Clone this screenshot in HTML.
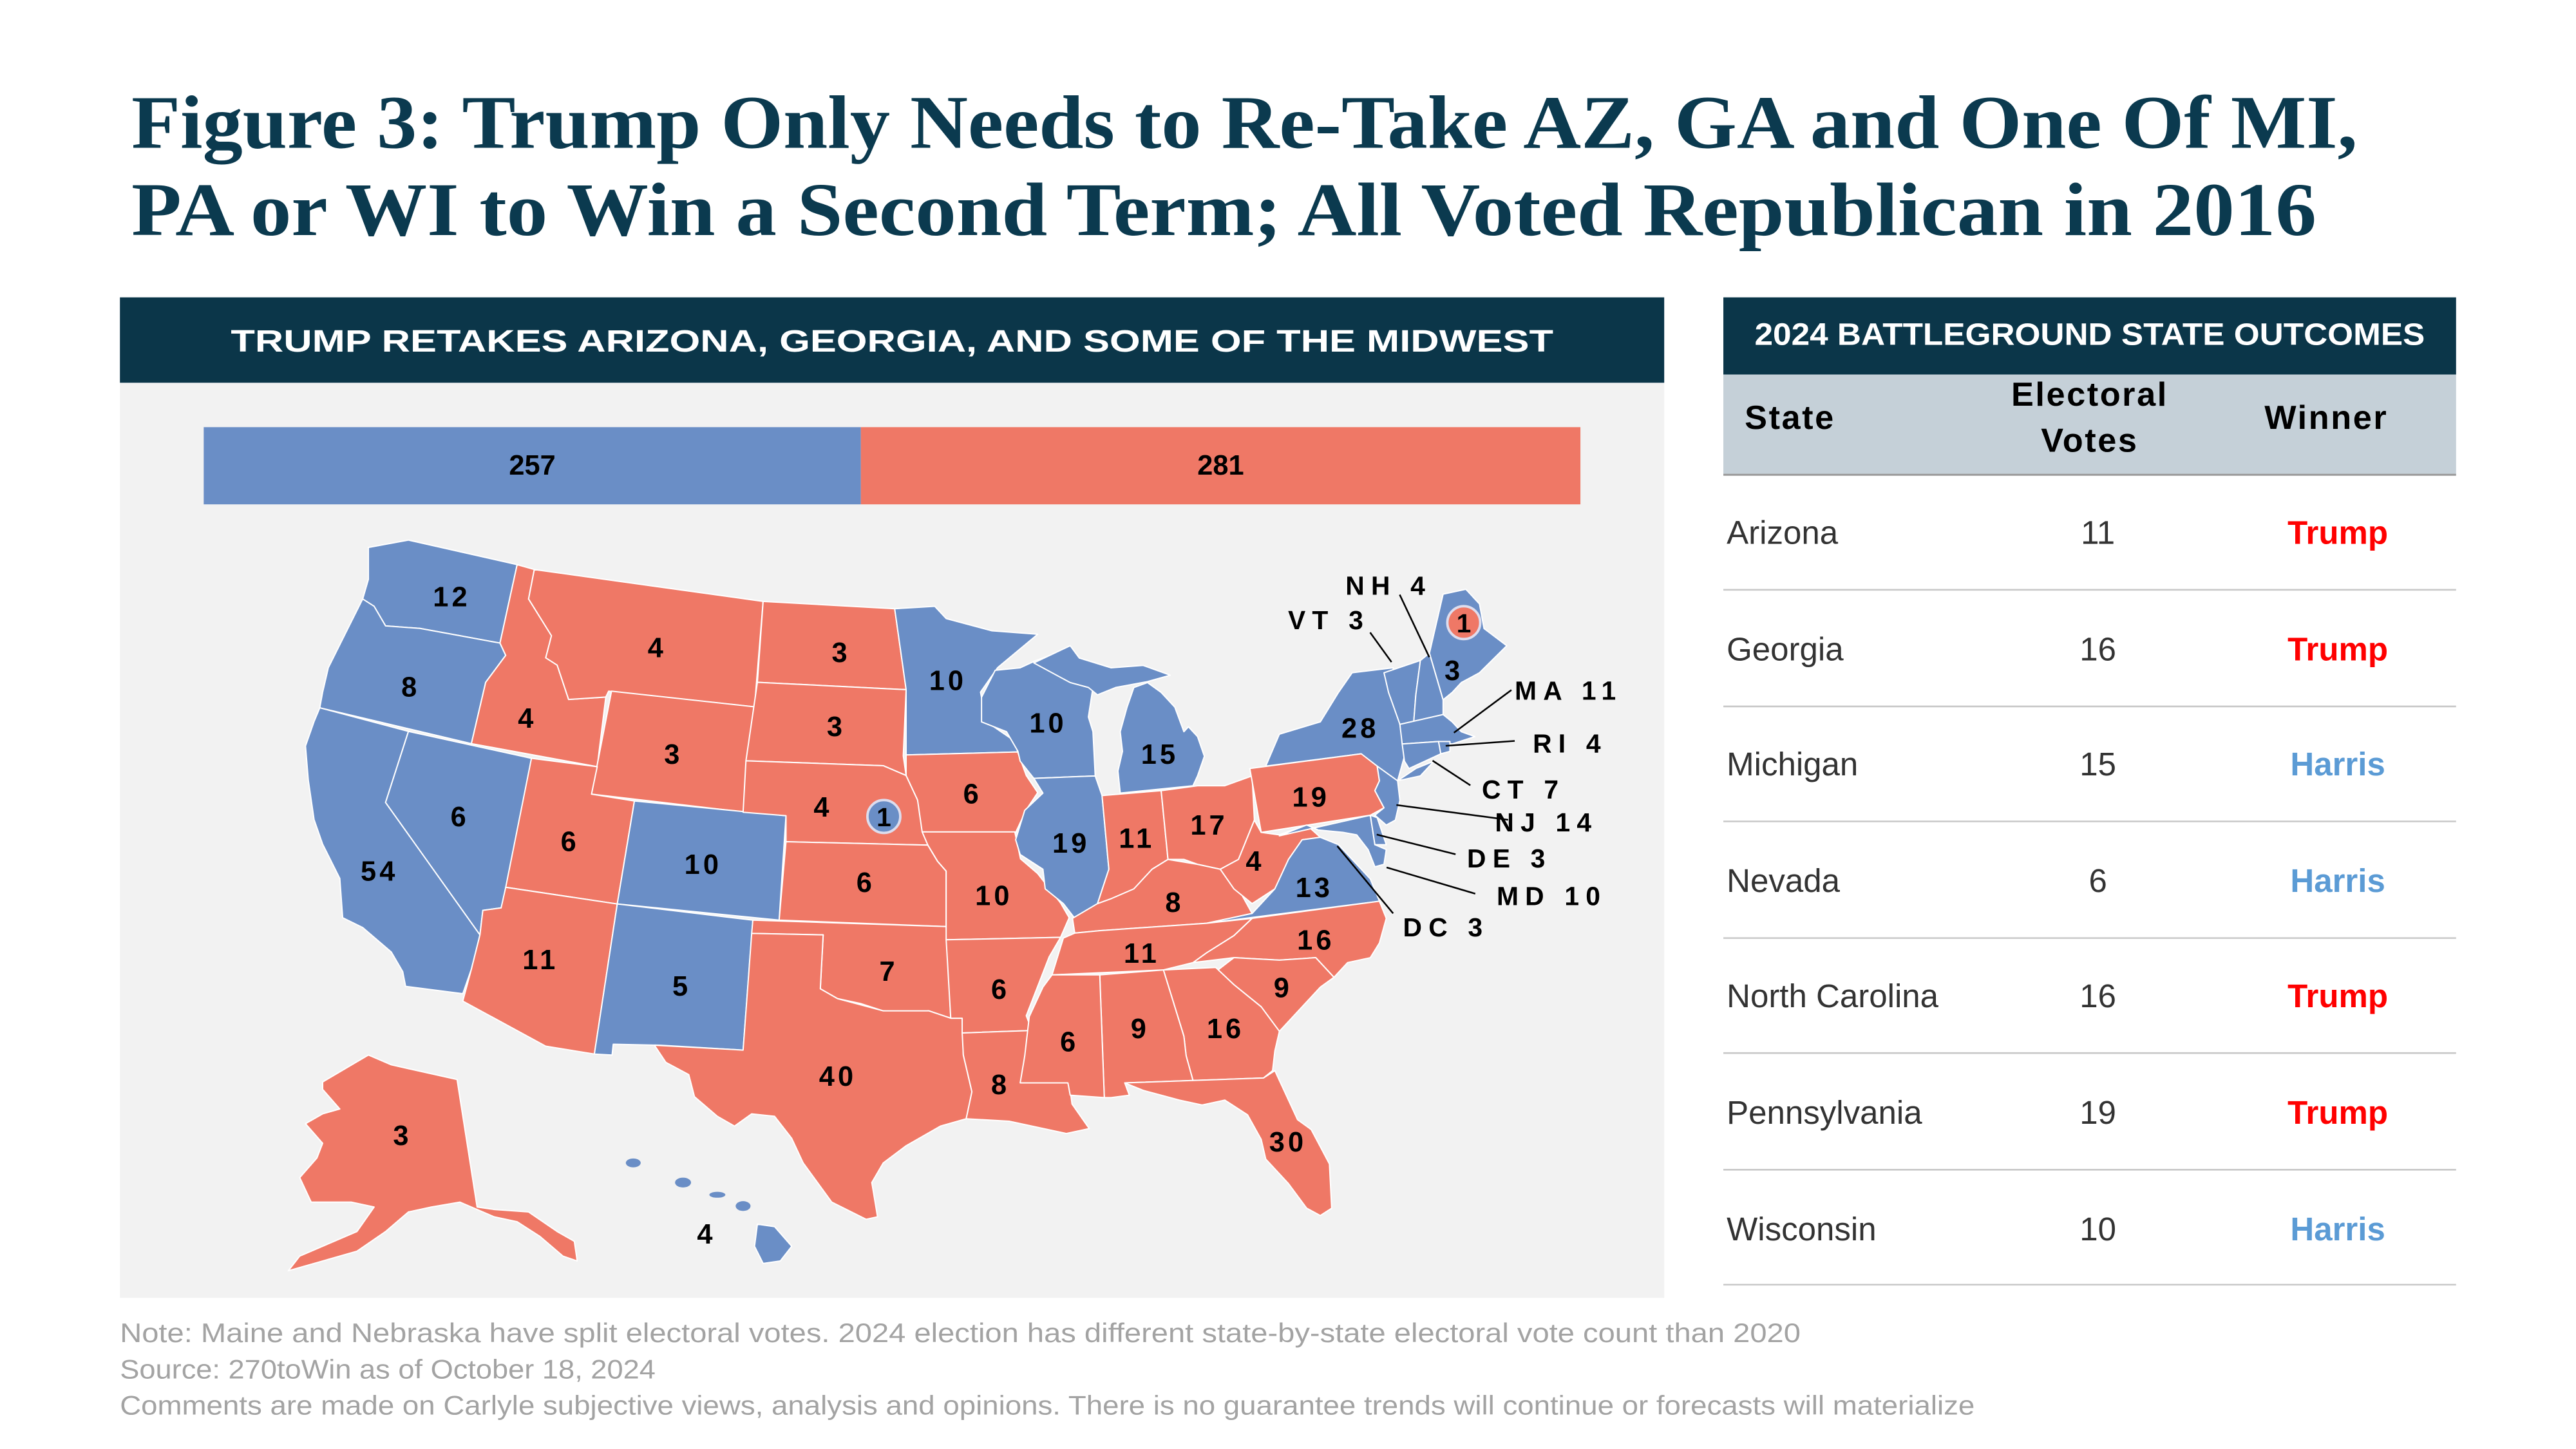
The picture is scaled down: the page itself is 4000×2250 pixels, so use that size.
<!DOCTYPE html>
<html><head><meta charset="utf-8"><style>
html,body{margin:0;padding:0;background:#fff}
svg{display:block}
text{font-family:"Liberation Sans",sans-serif}
.t{font-family:"Liberation Serif",serif;font-weight:bold;fill:#0b3a4f;font-size:46px}
.b{fill:#6a8ec6}.r{fill:#ef7866}
.st path,.st polygon{stroke:#fff;stroke-width:2;vector-effect:non-scaling-stroke;stroke-linejoin:round}
.lb{font-weight:bold;font-size:17px;fill:#000;text-anchor:middle;letter-spacing:2px}
.ab{font-weight:bold;font-size:16px;fill:#000;letter-spacing:4px}
.rw{font-size:20px;fill:#333}
.nm{font-size:20px;fill:#333;text-anchor:middle}
.tr{font-size:20px;font-weight:bold;fill:#ff0000;text-anchor:middle}
.hr{font-size:20px;font-weight:bold;fill:#5b9bd5;text-anchor:middle}
.nt{font-size:16.5px;fill:#a3a3a3}
</style></head><body>
<svg width="4000" height="2250" viewBox="0 0 1568 882" preserveAspectRatio="none" xmlns="http://www.w3.org/2000/svg">
<rect width="1568" height="882" fill="#fff"/>
<text class="t" x="80" y="90" textLength="1355" lengthAdjust="spacingAndGlyphs">Figure 3: Trump Only Needs to Re-Take AZ, GA and One Of MI,</text>
<text class="t" x="80" y="143" textLength="1330" lengthAdjust="spacingAndGlyphs">PA or WI to Win a Second Term; All Voted Republican in 2016</text>

<rect x="73" y="181" width="940" height="52" fill="#0b3649"/>
<text x="543" y="214" text-anchor="middle" fill="#fff" font-weight="bold" font-size="19" textLength="805" lengthAdjust="spacingAndGlyphs">TRUMP RETAKES ARIZONA, GEORGIA, AND SOME OF THE MIDWEST</text>
<rect x="73" y="233" width="940" height="557" fill="#f2f2f2"/>
<rect x="124" y="260" width="400" height="47" class="b"/>
<rect x="524" y="260" width="438" height="47" class="r"/>
<text x="324" y="289" text-anchor="middle" font-weight="bold" font-size="17">257</text>
<text x="743" y="289" text-anchor="middle" font-weight="bold" font-size="17">281</text>

<g class="st" transform="translate(175.5,319.8) scale(0.3482,0.2985)">
<polygon class="b" points="140,45 210,30 400,80 370,240 300,225 230,210 170,205 150,165 130,150 140,110"/>
<polygon class="b" points="130,150 150,165 170,205 230,210 300,225 370,240 380,265 345,320 320,445 55,372 60,340 70,290 100,220"/>
<polygon class="b" points="55,372 210,420 170,565 335,835 320,905 305,955 205,940 200,910 180,870 130,820 95,800 90,720 60,650 45,600 35,520 30,450 45,400"/>
<polygon class="b" points="210,420 425,475 385,735 372,780 340,785 335,835 170,565"/>
<polygon class="r" points="400,80 430,90 420,150 460,225 450,270 470,285 490,355 555,350 540,492 320,445 345,320 380,265 370,240"/>
<polygon class="r" points="430,90 830,155 815,370 560,338 555,350 490,355 470,285 450,270 460,225 420,150"/>
<polygon class="r" points="565,338 815,370 800,585 530,548"/>
<polygon class="r" points="425,475 540,492 530,548 605,562 575,772 380,738"/>
<polygon class="b" points="605,562 870,592 858,805 575,772"/>
<polygon class="r" points="380,738 575,772 535,1078 450,1062 305,970 320,905 335,835 340,785 372,780"/>
<polygon class="b" points="575,772 812,805 795,1070 650,1060 568,1058 566,1080 535,1078"/>
<polygon class="r" points="830,155 1060,170 1080,335 820,320"/>
<polygon class="r" points="820,320 1080,335 1075,470 1080,510 1040,490 800,480"/>
<polygon class="r" points="800,480 1040,490 1080,510 1100,560 1118,652 870,645 870,592 795,585"/>
<polygon class="r" points="870,645 1118,652 1135,685 1150,705 1150,818 858,805"/>
<polygon class="r" points="812,805 1150,818 1158,1005 1120,990 1080,995 1040,990 1000,975 960,965 930,945 935,835 810,832"/>
<polygon class="r" points="810,832 935,835 930,945 960,965 1040,990 1120,990 1158,1005 1178,1005 1180,1080 1195,1155 1185,1210 1140,1225 1080,1265 1040,1300 1020,1340 1030,1410 1010,1415 950,1380 900,1300 880,1250 850,1205 810,1200 780,1225 750,1205 710,1165 700,1120 660,1095 640,1060 795,1070"/>
<polygon class="b" points="1060,170 1130,165 1150,190 1230,215 1310,222 1240,290 1210,340 1220,400 1270,440 1275,462 1080,468 1080,335"/>
<polygon class="r" points="1080,468 1275,462 1290,510 1310,545 1290,580 1270,630 1108,625 1100,560 1080,510"/>
<polygon class="r" points="1108,625 1270,625 1280,680 1310,710 1350,770 1365,800 1350,840 1150,845 1150,705 1135,685 1118,652"/>
<polygon class="r" points="1150,845 1350,840 1330,880 1310,940 1290,1000 1300,1030 1178,1035 1178,1005 1158,1005"/>
<polygon class="r" points="1178,1035 1300,1030 1290,1080 1280,1135 1365,1135 1370,1180 1400,1230 1360,1240 1300,1225 1260,1215 1185,1210 1195,1155 1180,1080"/>
<polygon class="r" points="60,1135 140,1080 180,1100 295,1130 330,1390 360,1395 420,1400 470,1440 500,1460 505,1500 480,1490 440,1450 400,1420 360,1410 300,1380 250,1390 210,1400 170,1440 120,1480 60,1500 0,1520 20,1490 80,1460 120,1440 150,1390 110,1380 40,1380 20,1330 50,1290 60,1260 30,1220 60,1200 90,1190 60,1150"/>
<g stroke="none">
<ellipse class="b" cx="603" cy="1300" rx="13" ry="9"/>
<ellipse class="b" cx="690" cy="1340" rx="14" ry="10"/>
<ellipse class="b" cx="750" cy="1365" rx="14" ry="6"/>
<ellipse class="b" cx="795" cy="1388" rx="13" ry="10"/>
<polygon class="b" points="820,1425 850,1430 880,1470 860,1500 830,1505 815,1470"/>
</g>
</g>

<g class="st" transform="translate(585,319.8) scale(0.2768,0.299)">
<polygon class="b" points="45,350 75,295 130,290 165,275 240,250 290,330 280,390 290,420 295,510 160,515 130,480 125,460 100,420 45,400"/>
<polygon class="b" points="160,280 240,245 260,270 330,290 400,285 460,305 410,318 340,330 300,345 280,330 240,320"/>
<polygon class="b" points="350,545 345,500 355,460 350,420 365,370 380,330 410,320 440,340 470,370 490,420 500,410 520,430 535,470 520,510 510,530"/>
<polygon class="b" points="160,515 295,510 310,550 325,700 300,770 280,800 250,800 225,770 185,740 180,700 130,670 120,640 140,580 180,545"/>
<polygon class="r" points="310,550 440,540 455,680 420,700 380,740 330,760 300,770 325,700"/>
<polygon class="r" points="440,540 520,530 580,530 640,510 645,600 610,680 570,700 520,690 490,680 455,680"/>
<polygon class="r" points="300,770 330,760 380,740 420,700 455,680 520,690 570,700 610,740 640,790 540,810 305,825 250,830 245,800"/>
<polygon class="r" points="645,600 660,625 700,630 760,610 790,635 750,640 720,680 690,740 640,770 600,740 570,700 610,680"/>
<polygon class="b" points="670,490 700,425 790,400 830,340 860,300 950,290 965,405 975,470 960,520 920,500 880,465"/>
<polygon class="r" points="635,495 880,465 915,490 920,520 910,540 930,575 900,590 660,625"/>
<polygon class="b" points="540,810 640,790 690,740 720,680 750,640 790,635 830,650 860,680 900,720 920,765"/>
<polygon class="r" points="510,890 540,870 600,835 640,800 920,765 935,800 920,850 900,880 850,890 820,920 780,880 700,885 600,880"/>
<polygon class="r" points="200,915 225,840 250,830 305,825 540,810 640,800 600,835 540,870 510,890 445,905"/>
<polygon class="r" points="565,905 600,880 700,885 780,880 820,920 790,940 760,970 720,1010 700,1030 660,980 600,935"/>
<polygon class="r" points="445,905 560,900 600,935 660,980 700,1030 690,1070 685,1110 665,1125 510,1130 495,1080 490,1040"/>
<polygon class="r" points="305,915 445,905 490,1040 495,1080 510,1130 360,1135 370,1160 330,1165 315,1165"/>
<polygon class="r" points="200,915 305,915 315,1165 240,1160 235,1135 130,1135 140,1080 150,1000 180,940"/>
<polygon class="r" points="360,1135 665,1125 690,1110 740,1210 770,1230 810,1300 815,1390 790,1405 760,1390 720,1340 670,1290 660,1250 630,1200 580,1170 530,1180 480,1170 440,1160 400,1150"/>
<polygon class="b" points="915,490 960,520 965,560 955,600 935,610 910,590 930,575 910,540 920,520"/>
<polygon class="b" points="700,632 760,610 785,620 840,625 870,630 895,660 910,695 930,690 935,660 910,650 900,590"/>
<polygon class="b" points="900,590 915,595 935,650 910,650"/>
<polygon class="b" points="930,300 1010,275 1000,345 995,405 965,405 940,340"/>
<polygon class="b" points="1010,275 1030,260 1060,355 1060,385 995,405 1000,345"/>
<polygon class="b" points="1030,260 1060,140 1110,130 1140,160 1150,210 1200,245 1140,300 1100,320 1080,340 1060,355"/>
<polygon class="b" points="965,405 1060,385 1080,400 1100,420 1130,430 1080,445 1050,440 970,445"/>
<polygon class="b" points="970,445 1050,440 1055,465 985,495 975,480"/>
<polygon class="b" points="1050,440 1075,440 1075,460 1055,465"/>
<polygon class="b" points="960,520 1000,495 1040,480 1010,510"/>
</g>

<circle cx="538" cy="497" r="10" class="b" stroke="#dde" stroke-width="1.5"/>
<text x="538" y="503" text-anchor="middle" font-weight="bold" font-size="16">1</text>
<circle cx="891" cy="379" r="10" class="r" stroke="#dde" stroke-width="1.5"/>
<text x="891" y="385" text-anchor="middle" font-weight="bold" font-size="16">1</text>

<g>
<text class="lb" x="275" y="369">12</text><text class="lb" x="250" y="424">8</text>
<text class="lb" x="231" y="536">54</text><text class="lb" x="280" y="503">6</text>
<text class="lb" x="321" y="443">4</text><text class="lb" x="400" y="400">4</text>
<text class="lb" x="410" y="465">3</text><text class="lb" x="347" y="518">6</text>
<text class="lb" x="428" y="532">10</text><text class="lb" x="329" y="590">11</text>
<text class="lb" x="415" y="606">5</text><text class="lb" x="512" y="403">3</text>
<text class="lb" x="509" y="448">3</text><text class="lb" x="501" y="497">4</text>
<text class="lb" x="527" y="543">6</text><text class="lb" x="541" y="597">7</text>
<text class="lb" x="510" y="661">40</text><text class="lb" x="577" y="420">10</text>
<text class="lb" x="592" y="489">6</text><text class="lb" x="605" y="551">10</text>
<text class="lb" x="609" y="608">6</text><text class="lb" x="609" y="666">8</text>
<text class="lb" x="638" y="446">10</text><text class="lb" x="652" y="519">19</text>
<text class="lb" x="706" y="465">15</text><text class="lb" x="692" y="516">11</text>
<text class="lb" x="736" y="508">17</text><text class="lb" x="715" y="555">8</text>
<text class="lb" x="764" y="530">4</text><text class="lb" x="800" y="546">13</text>
<text class="lb" x="695" y="586">11</text><text class="lb" x="801" y="578">16</text>
<text class="lb" x="781" y="607">9</text><text class="lb" x="746" y="632">16</text>
<text class="lb" x="694" y="632">9</text><text class="lb" x="651" y="640">6</text>
<text class="lb" x="784" y="701">30</text><text class="lb" x="798" y="491">19</text>
<text class="lb" x="828" y="449">28</text><text class="lb" x="885" y="414">3</text>
<text class="lb" x="245" y="697">3</text><text class="lb" x="430" y="757">4</text>
</g>
<g stroke="#000" stroke-width="1">
<line x1="852" y1="362" x2="870" y2="400"/>
<line x1="834" y1="385" x2="847" y2="403"/>
<line x1="920" y1="420" x2="885" y2="446"/>
<line x1="922" y1="451" x2="880" y2="454"/>
<line x1="895" y1="478" x2="872" y2="463"/>
<line x1="918" y1="499" x2="850" y2="490"/>
<line x1="886" y1="520" x2="838" y2="508"/>
<line x1="898" y1="544" x2="844" y2="528"/>
<line x1="848" y1="556" x2="814" y2="515"/>
</g>
<text class="ab" x="819" y="362">NH 4</text>
<text class="ab" x="784" y="383">VT 3</text>
<text class="ab" x="922" y="426">MA 11</text>
<text class="ab" x="933" y="458">RI 4</text>
<text class="ab" x="902" y="486">CT 7</text>
<text class="ab" x="910" y="506">NJ 14</text>
<text class="ab" x="893" y="528">DE 3</text>
<text class="ab" x="911" y="551">MD 10</text>
<text class="ab" x="854" y="570">DC 3</text>

<rect x="1049" y="181" width="446" height="47" fill="#0b3649"/>
<text x="1272" y="210" text-anchor="middle" fill="#fff" font-weight="bold" font-size="19" textLength="408" lengthAdjust="spacingAndGlyphs">2024 BATTLEGROUND STATE OUTCOMES</text>
<rect x="1049" y="228" width="446" height="61" fill="#c5d0d8"/>
<line x1="1049" y1="289" x2="1495" y2="289" stroke="#999" stroke-width="1.2"/>
<text x="1062" y="261" font-weight="bold" font-size="20.5" letter-spacing="1">State</text>
<text x="1272" y="247" text-anchor="middle" font-weight="bold" font-size="20.5" letter-spacing="1">Electoral</text>
<text x="1272" y="275" text-anchor="middle" font-weight="bold" font-size="20.5" letter-spacing="1">Votes</text>
<text x="1416" y="261" text-anchor="middle" font-weight="bold" font-size="20.5" letter-spacing="1">Winner</text>
<g stroke="#c8c8c8" stroke-width="1">
<line x1="1049" y1="359" x2="1495" y2="359"/><line x1="1049" y1="430" x2="1495" y2="430"/>
<line x1="1049" y1="500" x2="1495" y2="500"/><line x1="1049" y1="571" x2="1495" y2="571"/>
<line x1="1049" y1="641" x2="1495" y2="641"/><line x1="1049" y1="712" x2="1495" y2="712"/>
<line x1="1049" y1="782" x2="1495" y2="782"/>
</g>
<text class="rw" x="1051" y="331">Arizona</text><text class="nm" x="1277" y="331">11</text><text class="tr" x="1423" y="331">Trump</text>
<text class="rw" x="1051" y="402">Georgia</text><text class="nm" x="1277" y="402">16</text><text class="tr" x="1423" y="402">Trump</text>
<text class="rw" x="1051" y="472">Michigan</text><text class="nm" x="1277" y="472">15</text><text class="hr" x="1423" y="472">Harris</text>
<text class="rw" x="1051" y="543">Nevada</text><text class="nm" x="1277" y="543">6</text><text class="hr" x="1423" y="543">Harris</text>
<text class="rw" x="1051" y="613">North Carolina</text><text class="nm" x="1277" y="613">16</text><text class="tr" x="1423" y="613">Trump</text>
<text class="rw" x="1051" y="684">Pennsylvania</text><text class="nm" x="1277" y="684">19</text><text class="tr" x="1423" y="684">Trump</text>
<text class="rw" x="1051" y="755">Wisconsin</text><text class="nm" x="1277" y="755">10</text><text class="hr" x="1423" y="755">Harris</text>

<text class="nt" x="73" y="817" textLength="1023" lengthAdjust="spacingAndGlyphs">Note: Maine and Nebraska have split electoral votes. 2024 election has different state-by-state electoral vote count than 2020</text>
<text class="nt" x="73" y="839" textLength="326" lengthAdjust="spacingAndGlyphs">Source: 270toWin as of October 18, 2024</text>
<text class="nt" x="73" y="861" textLength="1129" lengthAdjust="spacingAndGlyphs">Comments are made on Carlyle subjective views, analysis and opinions. There is no guarantee trends will continue or forecasts will materialize</text>
</svg>
</body></html>
